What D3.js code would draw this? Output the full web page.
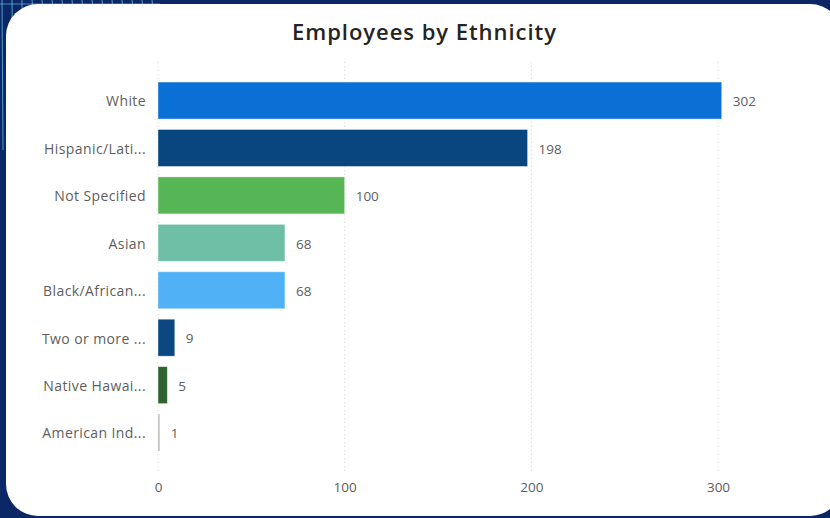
<!DOCTYPE html>
<html>
<head>
<meta charset="utf-8">
<script src="https://cdn.jsdelivr.net/npm/d3@7.9.0/dist/d3.min.js"></script>
<style>
  html, body { margin: 0; padding: 0; background: #0c2766; }
  svg { display: block; }
</style>
</head>
<body>
<svg id="chart" width="830" height="518"></svg>
<script>
// chart data
const categories = ["White", "Hispanic/Lati...", "Not Specified", "Asian", "Black/African...",
  "Two or more ...", "Native Hawai...", "American Ind..."];
const values = [302, 198, 100, 68, 68, 9, 5, 1];
const barColors = ["#0b70d6", "#09457f", "#56b655", "#6ebfa5", "#50b1f7", "#0b4781", "#2f6330", "#b9b9b9"];
const xTicks = [0, 100, 200, 300];

const svg = d3.select("#chart");
const font = "'Open Sans', sans-serif";

// background texture in the top-left corner
const bg = svg.append("g");
bg.append("rect").attr("width", 830).attr("height", 518).attr("fill", "#0c2766");
for (let i = 0; i < 16; i++) {
  bg.append("line")
    .attr("x1", 2 + i * 10).attr("y1", 0)
    .attr("x2", 3 + i * 10).attr("y2", i < 3 ? 150 - i * 35 : 10)
    .attr("stroke", "#6fd3f0").attr("stroke-opacity", 0.7).attr("stroke-width", 1);
}
bg.append("line").attr("x1", 0).attr("y1", 4).attr("x2", 160).attr("y2", 4)
  .attr("stroke", "#6fd3f0").attr("stroke-opacity", 0.6);

// white card
svg.append("rect")
  .attr("x", 6).attr("y", 4)
  .attr("width", 836).attr("height", 512)
  .attr("rx", 32).attr("ry", 32)
  .attr("fill", "#ffffff");

svg.append("text")
  .attr("x", 424).attr("y", 40)
  .attr("text-anchor", "middle")
  .attr("font-family", font)
  .attr("font-size", 22)
  .attr("font-weight", 600)
  .attr("textLength", 264)
  .attr("lengthAdjust", "spacing")
  .attr("fill", "#252423")
  .text("Employees by Ethnicity");

const x = d3.scaleLinear().domain([0, 300]).range([158, 718]);
const y = d3.scaleBand().domain(categories).range([71.6, 461.5])
  .paddingInner(0.22).paddingOuter(0.22);

// dotted gridlines
svg.append("g")
  .selectAll("line")
  .data(xTicks)
  .join("line")
  .attr("x1", d => x(d)).attr("x2", d => x(d))
  .attr("y1", 62).attr("y2", 472)
  .attr("stroke", "#d4d4d4")
  .attr("stroke-width", 1)
  .attr("stroke-dasharray", "1,3");

// x axis (labels only)
const xAxis = svg.append("g")
  .attr("transform", "translate(0,474)")
  .call(d3.axisBottom(x).tickValues(xTicks).tickSize(0).tickPadding(8));
xAxis.select(".domain").remove();
xAxis.selectAll("text")
  .attr("font-family", font)
  .attr("font-size", 13.5)
  .attr("fill", "#605e5c");

// y axis (category labels)
const yAxis = svg.append("g")
  .attr("transform", "translate(158,0)")
  .call(d3.axisLeft(y).tickSize(0).tickPadding(12));
yAxis.select(".domain").remove();
yAxis.selectAll("text")
  .attr("font-family", font)
  .attr("font-size", 14)
  .attr("letter-spacing", 0.4)
  .attr("dy", "0.42em")
  .attr("fill", "#605e5c");

// bars
svg.append("g")
  .selectAll("rect")
  .data(values)
  .join("rect")
  .attr("x", x(0))
  .attr("y", (d, i) => y(categories[i]))
  .attr("width", d => Math.max(x(d) - x(0), 1.5))
  .attr("height", y.bandwidth())
  .attr("fill", (d, i) => barColors[i])
  .attr("stroke", "#ffffff")
  .attr("stroke-opacity", 0.5)
  .attr("stroke-width", 0.8);

// value labels
svg.append("g")
  .selectAll("text")
  .data(values)
  .join("text")
  .attr("x", d => Math.max(x(d), x(0) + 1.5) + 11)
  .attr("y", (d, i) => y(categories[i]) + y.bandwidth() / 2)
  .attr("dy", "0.42em")
  .attr("font-family", font)
  .attr("font-size", 13.5)
  .attr("fill", "#605e5c")
  .text(d => d);
</script>
</body>
</html>
